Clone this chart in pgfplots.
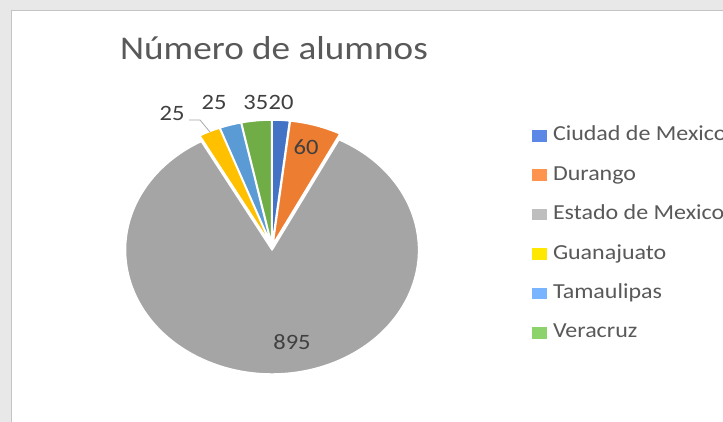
\documentclass[border=0pt]{standalone}
\usepackage{pgfplots}
\pgfplotsset{compat=1.18}
\usepackage{pgfplotstable}
\usepackage{fontspec}
\setmainfont{Carlito}[FakeStretch=1.12]

\definecolor{slice0}{HTML}{4472C4}
\definecolor{slice1}{HTML}{ED7D31}
\definecolor{slice2}{HTML}{A5A5A5}
\definecolor{slice3}{HTML}{FFC000}
\definecolor{slice4}{HTML}{5B9BD5}
\definecolor{slice5}{HTML}{70AD47}
\definecolor{leg0}{HTML}{5B87E6}
\definecolor{leg1}{HTML}{FF944F}
\definecolor{leg2}{HTML}{BEBEBE}
\definecolor{leg3}{HTML}{FFE800}
\definecolor{leg4}{HTML}{78B4FF}
\definecolor{leg5}{HTML}{8DD36B}
\definecolor{txtgray}{HTML}{595959}
\definecolor{lblgray}{HTML}{404040}
\definecolor{bggray}{HTML}{E8E8E8}
\definecolor{bordergray}{HTML}{C4C4C4}

\pgfplotstableread[col sep=comma]{
state,value
Ciudad de Mexico,20
Durango,60
Estado de Mexico,895
Guanajuato,25
Tamaulipas,25
Veracruz,35
}\pietable

\begin{document}
\begin{tikzpicture}
\useasboundingbox (0,0) rectangle (723bp,422bp);
\clip (0,0) rectangle (723bp,422bp);
\fill[bggray] (0,0) rectangle (723bp,422bp);
\fill[white] (11bp,-2bp) rectangle (730bp,411bp);
\draw[bordergray, line width=1bp] (11bp,-2bp) -- (11bp,411bp) -- (730bp,411bp);
\begin{axis}[
  at={(0,0)}, anchor=south west,
  scale only axis, width=723bp, height=422bp,
  xmin=0, xmax=723, ymin=0, ymax=422,
  hide axis, clip=false,
  legend image code/.code={\fill[#1, draw=none] (0bp,-6.2bp) rectangle (15bp,5.4bp);},
  legend style={at={(axis cs:532,296)}, anchor=north west, draw=none, fill=none,
    inner sep=0pt, outer sep=0pt,
    font=\fontsize{21.5}{26}\selectfont, text=txtgray,
    cells={anchor=west},
    nodes={inner sep=0pt, text height=15bp, text depth=4bp},
    row sep=20.4bp,
    /tikz/every odd column/.append style={column sep=6bp}},
]
\def\cum{0}
\pgfplotsforeachungrouped \i in {0,...,5}{%
  \pgfplotstablegetelem{\i}{value}\of\pietable
  \pgfmathsetmacro\val{\pgfplotsretval}%
  \pgfmathsetmacro\angA{90-\cum/1060*360}%
  \pgfmathsetmacro\angB{90-(\cum+\val)/1060*360}%
  \pgfmathsetmacro\angM{(\angA+\angB)/2}%
  \pgfmathsetmacro\cx{272+3.5*cos(\angM)}%
  \pgfmathsetmacro\cy{175+3*sin(\angM)}%
  \edef\temp{\noexpand\fill[fill=slice\i, draw=white, line width=1.5bp, line join=round]
    (axis cs:\cx,\cy) -- ++(\angA:146.5bp and 124bp)
    arc[start angle=\angA, end angle=\angB, x radius=146.5bp, y radius=124bp] -- cycle;}%
  \temp
  \pgfmathsetmacro\newcum{\cum+\val}%
  \global\let\cum\newcum
}
\addlegendimage{fill=leg0, draw=none}\addlegendentry{Ciudad de Mexico}
\addlegendimage{fill=leg1, draw=none}\addlegendentry{Durango}
\addlegendimage{fill=leg2, draw=none}\addlegendentry{Estado de Mexico}
\addlegendimage{fill=leg3, draw=none}\addlegendentry{Guanajuato}
\addlegendimage{fill=leg4, draw=none}\addlegendentry{Tamaulipas}
\addlegendimage{fill=leg5, draw=none}\addlegendentry{Veracruz}

% title
\node[anchor=base west, inner sep=0pt, text=txtgray, font=\fontsize{33.3}{40}\selectfont]
  at (axis cs:120,362) {Número de alumnos};
% data labels
\begin{scope}[every node/.style={inner sep=0pt, text=lblgray, font=\fontsize{22}{26}\selectfont}]
\node[anchor=base] at (axis cs:292,72) {895};
\node[anchor=base] at (axis cs:306,267) {60};
\node[anchor=base east] at (axis cs:268.5,312) {35};
\node[anchor=base west] at (axis cs:268.5,312) {20};
\node[anchor=base] at (axis cs:214,312) {25};
\node[anchor=base] at (axis cs:172,301) {25};
\end{scope}
\draw[color=slice2, line width=0.75bp] (axis cs:189,302) -- (axis cs:200,302) -- (axis cs:210,290);
\end{axis}
\end{tikzpicture}
\end{document}
